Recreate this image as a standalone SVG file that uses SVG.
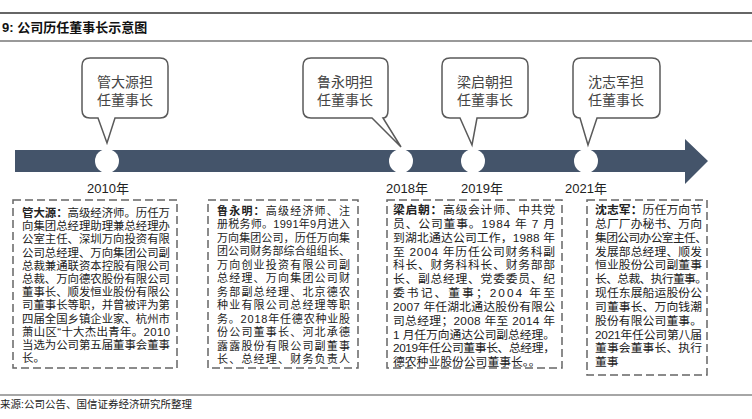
<svg xmlns="http://www.w3.org/2000/svg" width="752" height="419" viewBox="0 0 752 419">
<style>
.cjk{font-family:"Liberation Sans","Noto Sans CJK SC",sans-serif;}
.title{font-size:13px;font-weight:bold;fill:#111;}
.call{font-size:14px;fill:#444;text-anchor:middle;}
.callout{fill:#fff;stroke:#5a5a5a;stroke-width:1.5;}
.year{font-family:"Liberation Sans","Noto Sans CJK SC",sans-serif;font-size:13px;fill:#222;text-anchor:middle;}
.box{fill:#fff;stroke:#666;stroke-width:1.5;stroke-dasharray:8 4;}
.body{font-size:11px;fill:#222;}
.src{font-size:10.5px;fill:#222;}
</style>
<rect width="752" height="419" fill="#fff"/>
<line x1="0" y1="13" x2="752" y2="13" stroke="#333" stroke-width="1.5"/>
<text class="cjk title" x="2" y="32">9: 公司历任董事长示意图</text>
<line x1="0" y1="41" x2="752" y2="41" stroke="#999" stroke-width="2"/>

<g id="timeline">
<path d="M15 150 H685 V139 L708 161 L685 184 V172 H15 Z" fill="#44546A"/>
</g>

<g id="connectors">
<circle cx="107" cy="161" r="12" fill="#fff"/>
<circle cx="401" cy="161" r="12" fill="#fff"/>
<circle cx="473" cy="161" r="12" fill="#fff"/>
<circle cx="586" cy="161" r="12" fill="#fff"/>
</g>

<g id="callout-2010">
<path class="callout" d="M90 58 H160 Q168 58 168 66 V110 Q168 118 160 118 H115 L107 143 L98 118 H90 Q82 118 82 110 V66 Q82 58 90 58 Z"/>
<text class="cjk call" x="125" y="87">管大源担</text>
<text class="cjk call" x="125" y="105">任董事长</text>
</g>
<g id="callout-2018">
<path class="callout" d="M311 58 H380 Q388 58 388 66 V110 Q388 118 383 118 L401 147 L372 118 H311 Q303 118 303 110 V66 Q303 58 311 58 Z"/>
<text class="cjk call" x="345" y="87">鲁永明担</text>
<text class="cjk call" x="345" y="105">任董事长</text>
</g>
<g id="callout-2019">
<path class="callout" d="M450 58 H520 Q528 58 528 66 V110 Q528 118 520 118 H477 L472 145 L460 118 H450 Q442 118 442 110 V66 Q442 58 450 58 Z"/>
<text class="cjk call" x="485" y="87">梁启朝担</text>
<text class="cjk call" x="485" y="105">任董事长</text>
</g>
<g id="callout-2021">
<path class="callout" d="M581 58 H652 Q660 58 660 66 V110 Q660 118 652 118 H597 L588 145 L580 118 Q573 118 573 110 V66 Q573 58 581 58 Z"/>
<text class="cjk call" x="616" y="87">沈志军担</text>
<text class="cjk call" x="616" y="105">任董事长</text>
</g>

<g id="years">
<text class="year" x="108" y="193">2010年</text>
<text class="year" x="407" y="193">2018年</text>
<text class="year" x="482" y="193">2019年</text>
<text class="year" x="586" y="193">2021年</text>
</g>

<g id="box-guan">
<rect class="box" x="13" y="200" width="164" height="168"/>
<g class="cjk body" style="font-size:11.4px">
<text x="22" y="217" textLength="148"><tspan font-weight="bold">管大源：</tspan>高级经济师。历任万</text>
<text x="22" y="230" textLength="148">向集团总经理助理兼总经理办</text>
<text x="22" y="243" textLength="148">公室主任、深圳万向投资有限</text>
<text x="22" y="257" textLength="148">公司总经理、万向集团公司副</text>
<text x="22" y="270" textLength="148">总裁兼通联资本控股有限公司</text>
<text x="22" y="283" textLength="148">总裁、万向德农股份有限公司</text>
<text x="22" y="296" textLength="148">董事长、顺发恒业股份有限公</text>
<text x="22" y="309" textLength="148">司董事长等职，并曾被评为第</text>
<text x="22" y="323" textLength="148">四届全国乡镇企业家、杭州市</text>
<text x="22" y="336" textLength="148">萧山区“十大杰出青年。2010</text>
<text x="22" y="349" textLength="148">当选为公司第五届董事会董事</text>
<text x="22" y="362">长。</text>
</g>
</g>

<g id="box-lu">
<rect class="box" x="208" y="200" width="150" height="168"/>
<g class="cjk body">
<text x="217" y="215" textLength="133"><tspan font-weight="bold">鲁永明：</tspan>高级经济师、注</text>
<text x="217" y="228" textLength="133">册税务师。1991年9月进入</text>
<text x="217" y="242" textLength="133">万向集团公司，历任万向集</text>
<text x="217" y="255" textLength="133">团公司财务部综合组组长、</text>
<text x="217" y="269" textLength="133">万向创业投资有限公司副</text>
<text x="217" y="282" textLength="133">总经理、万向集团公司财</text>
<text x="217" y="296" textLength="133">务部副总经理、北京德农</text>
<text x="217" y="309" textLength="133">种业有限公司总经理等职</text>
<text x="217" y="323" textLength="133">务。2018年任德农种业股</text>
<text x="217" y="336" textLength="133">份公司董事长、河北承德</text>
<text x="217" y="350" textLength="133">露露股份有限公司副董事</text>
<text x="217" y="363" textLength="133">长、总经理、财务负责人</text>
</g>
</g>

<g id="box-liang">
<rect class="box" x="387" y="200" width="175" height="168"/>
<g class="cjk body" style="font-size:11.8px">
<text x="393" y="214" textLength="162"><tspan font-weight="bold">梁启朝：</tspan>高级会计师、中共党</text>
<text x="393" y="228" textLength="162">员、公司董事。1984 年 7 月</text>
<text x="393" y="242" textLength="162">到湖北通达公司工作，1988 年</text>
<text x="393" y="256" textLength="162">至 2004 年历任公司财务科副</text>
<text x="393" y="269" textLength="162">科长、财务科科长、财务部部</text>
<text x="393" y="283" textLength="162">长、副总经理、党委委员、纪</text>
<text x="393" y="297" textLength="162">委书记、董事；2004 年至</text>
<text x="393" y="311" textLength="162">2007 年任湖北通达股份有限公</text>
<text x="393" y="325" textLength="162">司总经理；2008 年至 2014 年</text>
<text x="393" y="339" textLength="162">1 月任万向通达公司副总经理。</text>
<text x="393" y="352" textLength="162">2019年任公司董事长、总经理，</text>
<text x="393" y="366">德农种业股份公司董事长。。</text>
</g>
</g>

<g id="box-shen">
<rect class="box" x="587" y="200" width="120" height="175"/>
<g class="cjk body" style="font-size:11.8px">
<text x="595" y="214" textLength="107"><tspan font-weight="bold">沈志军：</tspan>历任万向节</text>
<text x="595" y="228" textLength="107">总厂厂办秘书、万向</text>
<text x="595" y="242" textLength="112">集团公司办公室主任、</text>
<text x="595" y="256" textLength="107">发展部总经理、顺发</text>
<text x="595" y="269" textLength="107">恒业股份公司副董事</text>
<text x="595" y="283" textLength="112">长、总裁、执行董事。</text>
<text x="595" y="297" textLength="107">现任东展船运股份公</text>
<text x="595" y="311" textLength="107">司董事长、万向钱潮</text>
<text x="595" y="325" textLength="107">股份有限公司董事。</text>
<text x="595" y="339" textLength="107">2021年任公司第八届</text>
<text x="595" y="352" textLength="107">董事会董事长、执行</text>
<text x="595" y="366">董事</text>
</g>
</g>

<line x1="0" y1="395" x2="752" y2="395" stroke="#888" stroke-width="1.5"/>
<text class="cjk src" x="0" y="408">来源:公司公告、国信证券经济研究所整理</text>
</svg>
